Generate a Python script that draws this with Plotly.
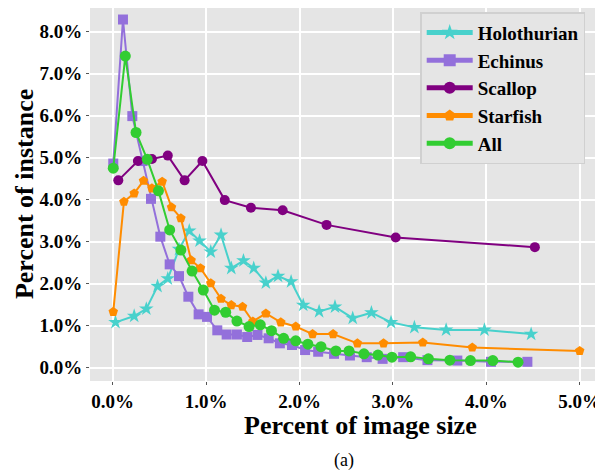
import plotly.graph_objects as go

# Data (percent of image size, percent of instance)
holo_x = [0.03, 0.23, 0.36, 0.48, 0.59, 0.71, 0.82, 0.93, 1.05, 1.16, 1.27, 1.40, 1.51, 1.64, 1.77, 1.91, 2.04, 2.21, 2.38, 2.57, 2.77, 2.98, 3.23, 3.57, 3.98, 4.48]
holo_y = [1.08, 1.23, 1.40, 1.94, 2.12, 2.82, 3.26, 3.02, 2.76, 3.16, 2.37, 2.55, 2.37, 2.02, 2.18, 2.05, 1.49, 1.34, 1.45, 1.18, 1.31, 1.08, 0.96, 0.90, 0.90, 0.80]

echi_x = [0.006, 0.11, 0.21, 0.32, 0.41, 0.51, 0.61, 0.71, 0.81, 0.92, 1.01, 1.12, 1.22, 1.33, 1.44, 1.55, 1.67, 1.79, 1.92, 2.06, 2.20, 2.37, 2.54, 2.72, 2.89, 3.11, 3.37, 3.69, 4.05, 4.44]
echi_y = [4.86, 8.29, 5.99, 4.92, 4.02, 3.12, 2.46, 2.18, 1.69, 1.27, 1.21, 0.89, 0.79, 0.79, 0.73, 0.78, 0.70, 0.58, 0.54, 0.42, 0.38, 0.33, 0.29, 0.25, 0.21, 0.25, 0.18, 0.17, 0.14, 0.14]

scal_x = [0.06, 0.27, 0.42, 0.59, 0.77, 0.96, 1.20, 1.48, 1.82, 2.29, 3.03, 4.52]
scal_y = [4.46, 4.92, 4.97, 5.05, 4.46, 4.92, 3.99, 3.81, 3.75, 3.40, 3.10, 2.87]

star_x = [0.006, 0.12, 0.23, 0.33, 0.42, 0.53, 0.63, 0.73, 0.84, 0.94, 1.05, 1.16, 1.27, 1.39, 1.50, 1.64, 1.80, 1.96, 2.14, 2.36, 2.62, 2.90, 3.32, 3.85, 5.00]
star_y = [1.33, 3.95, 4.15, 4.45, 4.27, 4.43, 3.82, 3.56, 2.56, 2.37, 2.01, 1.64, 1.49, 1.45, 1.10, 1.29, 1.08, 0.98, 0.80, 0.80, 0.58, 0.58, 0.60, 0.48, 0.40]

all_x = [0.006, 0.135, 0.25, 0.37, 0.49, 0.61, 0.73, 0.85, 0.97, 1.09, 1.21, 1.33, 1.46, 1.58, 1.70, 1.83, 1.96, 2.09, 2.23, 2.39, 2.53, 2.69, 2.84, 2.99, 3.19, 3.38, 3.61, 3.83, 4.07, 4.34]
all_y = [4.75, 7.42, 5.60, 4.96, 4.21, 3.28, 2.80, 2.30, 1.85, 1.37, 1.32, 1.11, 0.98, 1.02, 0.88, 0.70, 0.64, 0.56, 0.50, 0.40, 0.40, 0.33, 0.30, 0.25, 0.26, 0.21, 0.18, 0.17, 0.17, 0.13]

x_ticks = [0, 1, 2, 3, 4, 5]
y_ticks = [0, 1, 2, 3, 4, 5, 6, 7, 8]

FONT = "Liberation Serif"

series = [
    ("Holothurian", holo_x, holo_y, "#48D1CC", "star", 11),
    ("Echinus", echi_x, echi_y, "#9370DB", "square", 10),
    ("Scallop", scal_x, scal_y, "#800080", "circle", 10),
    ("Starfish", star_x, star_y, "#FF8C00", "pentagon", 10),
    ("All", all_x, all_y, "#32CD32", "circle", 11),
]

fig = go.Figure()
for name, xs, ys, color, sym, size in series:
    fig.add_trace(go.Scatter(
        x=xs, y=ys, name=name, mode="lines+markers",
        line=dict(color=color, width=2),
        marker=dict(color=color, symbol=sym, size=size),
    ))

axis_common = dict(
    showgrid=True, gridcolor="white", gridwidth=1.5,
    zeroline=False, showline=False, automargin=False,
    ticks="outside", ticklen=3, tickcolor="#555",
    tickfont=dict(family=FONT, size=19, color="black", weight="bold"),
)

title_font = dict(family=FONT, size=26, color="black", weight="bold")

# the page body adds an 8px offset; size the figure so it fits the window
fig.update_layout(
    width=595, height=466,
    margin=dict(l=82, r=5, t=0, b=93),
    paper_bgcolor="white",
    plot_bgcolor="#E5E5E5",
    font=dict(family=FONT, color="black"),
    xaxis=dict(
        range=[-0.243, 5.196],
        tickvals=x_ticks, ticktext=[f"{v:.1f}%" for v in x_ticks],
        **axis_common,
    ),
    yaxis=dict(
        range=[-0.317, 8.564],
        tickvals=y_ticks, ticktext=[f"{v:.1f}%" for v in y_ticks],
        **axis_common,
    ),
    legend=dict(
        x=0.65, y=0.989, xanchor="left", yanchor="top",
        bgcolor="#E5E5E5", bordercolor="#D0D0D0", borderwidth=1.5,
        font=dict(family=FONT, size=19, color="black", weight="bold"),
        tracegroupgap=0, itemsizing="constant", itemwidth=46,
    ),
    annotations=[
        dict(text="Percent of image size", xref="paper", yref="paper",
             x=0.533, y=-0.118, xanchor="center", yanchor="middle",
             showarrow=False, font=title_font),
        dict(text="Percent of instance", xref="paper", yref="paper",
             x=-0.13, y=0.501, xanchor="center", yanchor="middle",
             textangle=-90, showarrow=False, font=title_font),
        dict(text="(a)", xref="paper", yref="paper", x=0.5, y=-0.214,
             xanchor="center", yanchor="middle", showarrow=False,
             font=dict(family=FONT, size=18, color="black")),
    ],
)

fig.write_html("out.html")
